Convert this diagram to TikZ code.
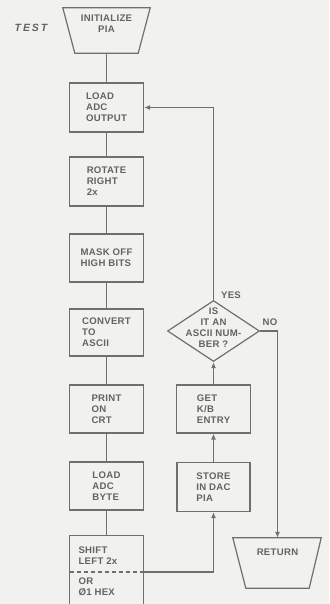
\documentclass[tikz,border=0pt]{standalone}
\usepackage{fontspec}
\setmainfont[LetterSpace=3]{Liberation Sans}
\newfontfamily\testfont[LetterSpace=18]{Liberation Sans}
\usetikzlibrary{arrows.meta,shapes.geometric}
\definecolor{bgc}{RGB}{241,241,240}
\definecolor{linec}{RGB}{112,112,104}
\definecolor{txtc}{RGB}{100,100,95}
\begin{document}
\begin{tikzpicture}[x=1pt,y=-1pt,
  every node/.style={font=\fontsize{9.6}{11}\selectfont\bfseries, text=txtc},
  box/.style={draw=linec, line width=1.2pt, rectangle, align=left, inner sep=0pt},
  conn/.style={draw=linec, line width=1.2pt},
  arr/.style={conn, -{Latex[length=6pt,width=5pt]}},
  ghost/.style={inner sep=0pt, draw=none}
]
\fill[bgc] (0,0) rectangle (329,604);
\useasboundingbox (0,0) rectangle (329,604);

% TEST label
\node[font=\testfont\fontsize{10.5}{11}\selectfont\bfseries\itshape] (test) at (31,28) {TEST};

% Initialize PIA
\node[ghost, minimum width=63pt, minimum height=45pt] (init) at (106.5,30.5) {};
\draw[conn] ([xshift=-12pt]init.north west) -- ([xshift=12pt]init.north east)
  -- (init.south east) -- (init.south west) -- cycle;
\node[align=center] (initt) at (106.5,23.5) {INITIALIZE\\PIA};

% left column
\node[box, minimum width=74pt, minimum height=49pt] (load) at (106.5,107.5) {LOAD\\ADC\\OUTPUT};
\node[box, minimum width=74pt, minimum height=49pt] (rot) at (106.5,181.5) {ROTATE\\RIGHT\\2x};
\node[box, minimum width=74pt, minimum height=48pt] (mask) at (106.5,258) {MASK OFF\\HIGH BITS};
\node[box, minimum width=74pt, minimum height=47pt] (conv) at (106.5,332.5) {CONVERT\\TO\\ASCII};
\node[box, minimum width=74pt, minimum height=48pt] (print) at (106.5,409) {PRINT\\ON\\CRT};
\node[box, minimum width=74pt, minimum height=48pt] (byte) at (106.5,486) {LOAD\\ADC\\BYTE};

% shift box (open at bottom edge)
\node[ghost, minimum width=74pt, minimum height=70pt] (shift) at (106.5,571) {};
\draw[conn] (shift.south west) -- (shift.north west) -- (shift.north east) -- (shift.south east);
\coordinate (dl) at (69.5,572);
\coordinate (dr) at (143.5,572);
\draw[conn, dash pattern=on 4pt off 3pt] (dl) -- (dr);
\node[anchor=west, align=left] (sa) at (75,555.5) {SHIFT\\LEFT 2x};
\node[anchor=west, align=left] (sb) at (75,587) {OR\\Ø1 HEX};

% right column
\node[box, minimum width=73pt, minimum height=49pt] (store) at (213.5,487) {STORE\\IN DAC\\PIA};
\node[box, minimum width=74pt, minimum height=48pt] (get) at (213.5,409) {GET\\K/B\\ENTRY};
\node[diamond, draw=linec, line width=1.2pt, minimum width=92pt, minimum height=61pt, inner sep=0pt] (dec) at (213.5,331) {};
\node[align=center] (dect) at (213.5,328) {IS\\IT AN\\ASCII NUM-\\BER ?};
\node (yes) at (231,295) {YES};
\node (no) at (270,322) {NO};

% Return
\node[ghost, minimum width=63pt, minimum height=50pt] (ret) at (277.5,563) {};
\draw[conn] ([xshift=-13pt]ret.north west) -- ([xshift=12pt]ret.north east)
  -- (ret.south east) -- (ret.south west) -- cycle;
\node (rett) at (277.5,552) {RETURN};

% connectors
\draw[conn] (init.south) -- (load.north);
\draw[conn] (load.south) -- (rot.north);
\draw[conn] (rot.south) -- (mask.north);
\draw[conn] (mask.south) -- (conv.north);
\draw[conn] (conv.south) -- (print.north);
\draw[conn] (print.south) -- (byte.north);
\draw[conn] (byte.south) -- (shift.north);
\draw[arr] (dr) -| (store.south);
\draw[arr] (store.north) -- (get.south);
\draw[arr] (get.north) -- (dec.south);
\draw[arr] (dec.north) |- (load.east);
\draw[arr] (dec.east) -| (ret.north);
\end{tikzpicture}
\end{document}
